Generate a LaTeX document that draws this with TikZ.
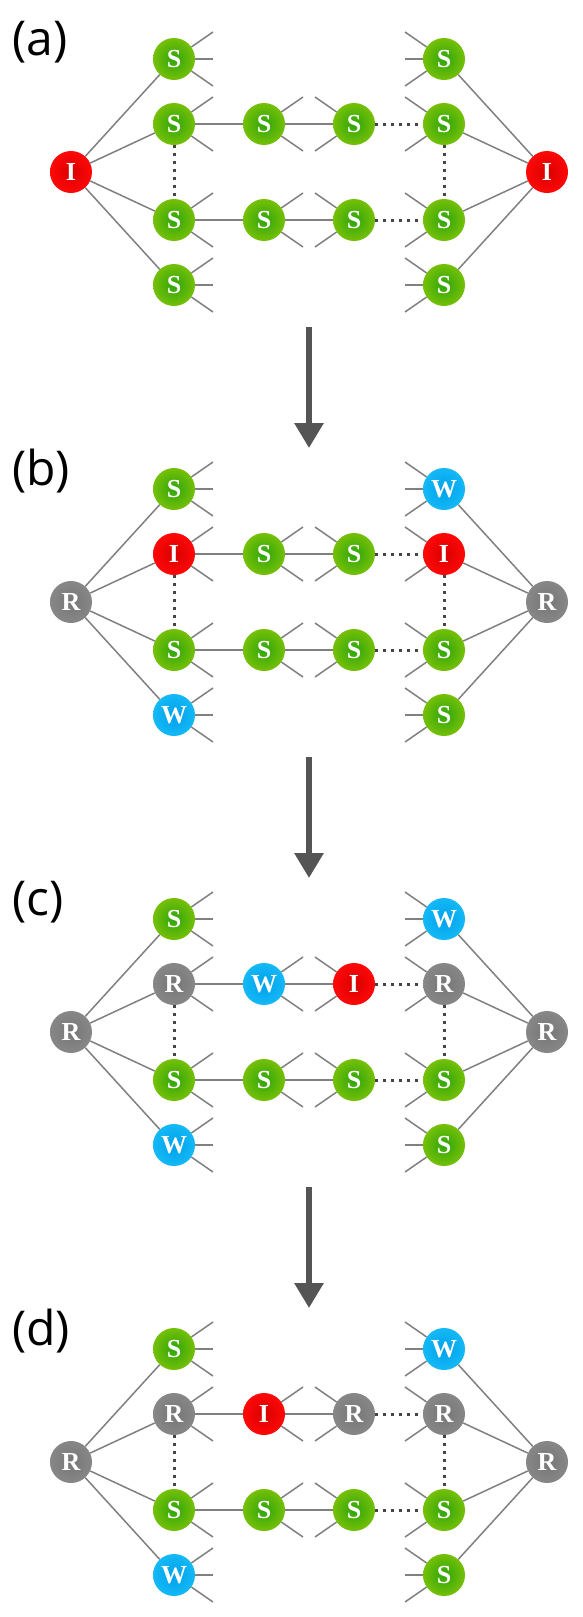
\documentclass[tikz,border=0pt]{standalone}
\usepackage{fontspec}
\setmainfont{Open Sans}
\newfontfamily\nodefont{Liberation Serif}
\usetikzlibrary{arrows.meta}
\definecolor{lineg}{RGB}{128,128,128}
\definecolor{dotg}{RGB}{70,70,70}
\definecolor{arrg}{RGB}{85,85,85}
\definecolor{gSout}{RGB}{118,192,8}
\definecolor{gSin}{RGB}{45,165,10}
\definecolor{rIout}{RGB}{255,8,8}
\definecolor{rIin}{RGB}{215,0,0}
\definecolor{gRout}{RGB}{135,135,135}
\definecolor{gRin}{RGB}{118,118,118}
\definecolor{bWout}{RGB}{20,185,245}
\definecolor{bWin}{RGB}{0,160,235}
\tikzset{
  nd/.style={circle, minimum size=42pt, inner sep=0pt, text=white,
    font=\nodefont\bfseries\fontsize{26}{26}\selectfont},
  nS/.style={nd, inner color=gSin, outer color=gSout},
  nI/.style={nd, inner color=rIin, outer color=rIout},
  nR/.style={nd, inner color=gRin, outer color=gRout},
  nW/.style={nd, inner color=bWin, outer color=bWout},
  link/.style={draw=lineg, line width=1.5pt},
  dots/.style={draw=dotg, line width=3pt, dash pattern=on 3pt off 5pt},
  flow/.style={draw=arrg, line width=6pt, -{Triangle[width=28pt,length=25pt]}},
  lbl/.style={anchor=base west, inner sep=0pt, font=\fontsize{48}{48}\selectfont}
}
\newcommand\nd[4]{\node[n#1] (#2) at (#3,#4) {#1};}
% #1 name, #2 offset, #3 L/R type, #4 c1r2, #5 c1r4, #6 c2r2, #7 c3r2, #8 c4r1, #9 c4r2
\newcommand\drawpanel[9]{%
  \nd{#3}{#1L}{71}{172+#2}
  \nd{S}{#1c1r1}{174}{59+#2}
  \nd{#4}{#1c1r2}{174}{124+#2}
  \nd{S}{#1c1r3}{174}{220+#2}
  \nd{#5}{#1c1r4}{174}{285+#2}
  \nd{#6}{#1c2r2}{264}{124+#2}
  \nd{S}{#1c2r3}{264}{220+#2}
  \nd{#7}{#1c3r2}{354}{124+#2}
  \nd{S}{#1c3r3}{354}{220+#2}
  \nd{#8}{#1c4r1}{444}{59+#2}
  \nd{#9}{#1c4r2}{444}{124+#2}
  \nd{S}{#1c4r3}{444}{220+#2}
  \nd{S}{#1c4r4}{444}{285+#2}
  \nd{#3}{#1R}{547}{172+#2}
  \foreach \k in {c1r1,c1r2,c1r3,c1r4} {\draw[link] (#1L) -- (#1\k);}
  \foreach \k in {c4r1,c4r2,c4r3,c4r4} {\draw[link] (#1R) -- (#1\k);}
  \foreach \r in {r2,r3} {
    \draw[link] (#1c1\r) -- (#1c2\r);
    \draw[link] (#1c2\r) -- (#1c3\r);
    \draw[dots] (#1c3\r) -- (#1c4\r);
    \draw[link] (#1c1\r) -- ++(39,-27);
    \draw[link] (#1c1\r) -- ++(39,27);
    \draw[link] (#1c2\r) -- ++(39,-27);
    \draw[link] (#1c2\r) -- ++(39,27);
    \draw[link] (#1c3\r) -- ++(-39,-27);
    \draw[link] (#1c3\r) -- ++(-39,27);
    \draw[link] (#1c4\r) -- ++(-39,-27);
    \draw[link] (#1c4\r) -- ++(-39,27);
  }
  \foreach \k in {c1r1,c1r4} {
    \draw[link] (#1\k) -- ++(39,-27);
    \draw[link] (#1\k) -- ++(39,0);
    \draw[link] (#1\k) -- ++(39,27);
  }
  \foreach \k in {c4r1,c4r4} {
    \draw[link] (#1\k) -- ++(-39,-27);
    \draw[link] (#1\k) -- ++(-39,0);
    \draw[link] (#1\k) -- ++(-39,27);
  }
  \draw[dots] (#1c1r2) -- (#1c1r3);
  \draw[dots] (#1c4r2) -- (#1c4r3);
}
\begin{document}
\begin{tikzpicture}[x=1pt,y=-1pt]
  \fill[white] (0,0) rectangle (582,1617);
  \useasboundingbox (0,0) rectangle (582,1617);
  \node[lbl] (la) at (12,55) {(a)};
  \node[lbl] (lb) at (12,485) {(b)};
  \node[lbl] (lc) at (12,915) {(c)};
  \node[lbl] (ld) at (12,1345) {(d)};
  \drawpanel{a}{0}{I}{S}{S}{S}{S}{S}{S}
  \drawpanel{b}{430}{R}{I}{W}{S}{S}{W}{I}
  \drawpanel{c}{860}{R}{R}{W}{W}{I}{W}{R}
  \drawpanel{d}{1290}{R}{R}{W}{I}{R}{W}{R}
  \coordinate (f1s) at (309,327);  \coordinate (f1e) at (309,448);
  \coordinate (f2s) at (309,757);  \coordinate (f2e) at (309,878);
  \coordinate (f3s) at (309,1187); \coordinate (f3e) at (309,1308);
  \draw[flow] (f1s) -- (f1e);
  \draw[flow] (f2s) -- (f2e);
  \draw[flow] (f3s) -- (f3e);
\end{tikzpicture}
\end{document}
